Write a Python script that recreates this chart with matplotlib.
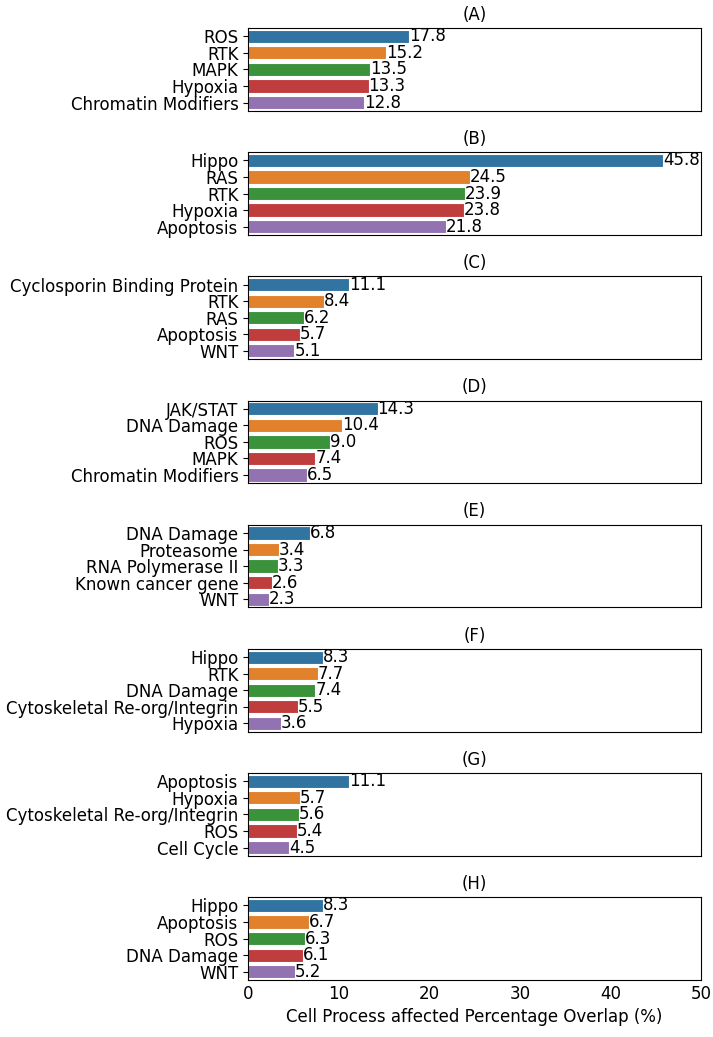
import matplotlib
matplotlib.use("Agg")
import matplotlib.pyplot as plt
import seaborn as sns

titles = ["(A)", "(B)", "(C)", "(D)", "(E)", "(F)", "(G)", "(H)"]

labels_a = ["ROS", "RTK", "MAPK", "Hypoxia", "Chromatin Modifiers"]
values_a = [17.8, 15.2, 13.5, 13.3, 12.8]
labels_b = ["Hippo", "RAS", "RTK", "Hypoxia", "Apoptosis"]
values_b = [45.8, 24.5, 23.9, 23.8, 21.8]
labels_c = ["Cyclosporin Binding Protein", "RTK", "RAS", "Apoptosis", "WNT"]
values_c = [11.1, 8.4, 6.2, 5.7, 5.1]
labels_d = ["JAK/STAT", "DNA Damage", "ROS", "MAPK", "Chromatin Modifiers"]
values_d = [14.3, 10.4, 9.0, 7.4, 6.5]
labels_e = ["DNA Damage", "Proteasome", "RNA Polymerase II", "Known cancer gene", "WNT"]
values_e = [6.8, 3.4, 3.3, 2.6, 2.3]
labels_f = ["Hippo", "RTK", "DNA Damage", "Cytoskeletal Re-org/Integrin", "Hypoxia"]
values_f = [8.3, 7.7, 7.4, 5.5, 3.6]
labels_g = ["Apoptosis", "Hypoxia", "Cytoskeletal Re-org/Integrin", "ROS", "Cell Cycle"]
values_g = [11.1, 5.7, 5.6, 5.4, 4.5]
labels_h = ["Hippo", "Apoptosis", "ROS", "DNA Damage", "WNT"]
values_h = [8.3, 6.7, 6.3, 6.1, 5.2]

panels = [(labels_a, values_a), (labels_b, values_b), (labels_c, values_c),
          (labels_d, values_d), (labels_e, values_e), (labels_f, values_f),
          (labels_g, values_g), (labels_h, values_h)]

# seaborn-style muted tab10
colors = [sns.desaturate(c, 0.75) for c in sns.color_palette("tab10", 5)]

fig, axes = plt.subplots(8, 1, figsize=(7.13, 10.37), sharex=True)
fig.subplots_adjust(left=0.348, right=0.983, top=0.973, bottom=0.055, hspace=0.5)

for ax, title, (labels, values) in zip(axes, titles, panels):
    ypos = range(len(labels))
    bars = ax.barh(ypos, values, color=colors, height=0.8,
                   edgecolor="white", linewidth=0.8)
    ax.set_yticks(list(ypos))
    ax.set_yticklabels(labels, fontsize=12)
    ax.set_ylim(len(labels) - 0.5, -0.5)
    ax.bar_label(bars, fmt="%.1f", fontsize=12, padding=0)
    ax.set_title(title, fontsize=12)
    ax.set_xlim(0, 50)
    ax.tick_params(axis="x", labelsize=12, length=0)

axes[-1].set_xlabel("Cell Process affected Percentage Overlap (%)", fontsize=12)

fig.savefig("out.png", dpi=100)
